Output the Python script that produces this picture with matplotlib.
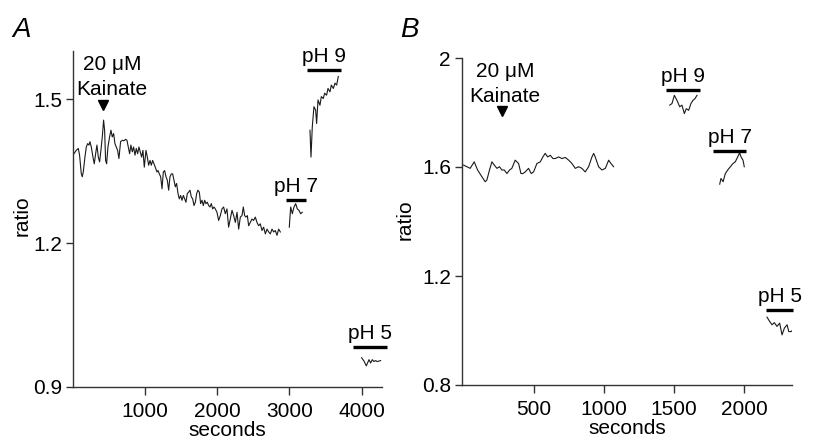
import matplotlib
matplotlib.use("Agg")
import matplotlib.pyplot as plt

plt.rcParams['font.family'] = ['Liberation Sans', 'DejaVu Sans']

# ---- painel A ----
a_base_t = [23, 55, 83, 101, 124, 138, 152, 175, 194, 212, 231, 244, 263, 286, 304, 323, 341, 360,
            378, 396, 415, 433, 447, 461, 475, 493, 516, 535, 553, 572, 590, 609, 627, 645, 668,
            692, 715, 738, 756, 774, 793, 811, 830, 848, 867, 885, 904, 922, 940, 959, 977, 996,
            1019, 1033, 1056, 1075, 1093, 1111, 1130, 1148, 1171, 1185, 1204, 1222, 1241, 1259,
            1277, 1296, 1314, 1333, 1351, 1370, 1388, 1406, 1425, 1443, 1462, 1480, 1499, 1517,
            1536, 1554, 1572, 1591, 1609, 1628, 1646, 1665, 1683, 1702, 1720, 1738, 1757, 1775,
            1794, 1812, 1831, 1849, 1867, 1886, 1904, 1923, 1941, 1960,
            1978, 2001, 2024, 2047, 2070, 2093, 2116, 2139, 2162, 2185, 2209, 2232, 2255, 2278,
            2301, 2324, 2347, 2365, 2384, 2402, 2421, 2439, 2462, 2485, 2508, 2531, 2554, 2577,
            2600, 2623, 2646, 2670, 2693, 2716, 2739, 2762, 2785, 2808, 2831, 2854, 2877]
a_base_r = [1.386, 1.393, 1.397, 1.383, 1.345, 1.338, 1.348, 1.379, 1.400, 1.407, 1.404, 1.411,
            1.400, 1.379, 1.365, 1.386, 1.404, 1.379, 1.369, 1.393, 1.421, 1.456, 1.435, 1.372,
            1.365, 1.400, 1.421, 1.435, 1.421, 1.428, 1.407, 1.400, 1.393, 1.376, 1.411, 1.414,
            1.413, 1.416, 1.414, 1.400, 1.386, 1.404, 1.390, 1.400, 1.383, 1.397, 1.386, 1.400,
            1.390, 1.379, 1.393, 1.358,
            1.393, 1.383, 1.362, 1.372, 1.362, 1.372, 1.365, 1.358, 1.348, 1.351, 1.344, 1.338,
            1.313, 1.348, 1.351, 1.338, 1.331, 1.310, 1.338, 1.344, 1.344, 1.331, 1.317, 1.324,
            1.303, 1.292, 1.299, 1.289, 1.299, 1.292, 1.285, 1.303, 1.306, 1.310, 1.296, 1.292,
            1.278, 1.285, 1.303, 1.310, 1.306, 1.282, 1.289, 1.278, 1.289, 1.282, 1.285, 1.278,
            1.275, 1.282, 1.271, 1.275,
            1.271, 1.264, 1.247, 1.257, 1.271, 1.275, 1.261, 1.271, 1.233, 1.250, 1.268, 1.257,
            1.243, 1.264, 1.229, 1.254, 1.257, 1.275, 1.257, 1.254, 1.257, 1.236, 1.243, 1.250,
            1.247, 1.254, 1.243, 1.236, 1.240, 1.226, 1.233, 1.219, 1.229, 1.223, 1.219, 1.229,
            1.223, 1.226, 1.216, 1.229, 1.223]
a_ph7_t = [3001, 3020, 3043, 3066, 3089, 3112, 3135, 3158, 3181]
a_ph7_r = [1.233, 1.275, 1.261, 1.275, 1.282, 1.271, 1.268, 1.261, 1.264]
a_ph9_t = [3287, 3301, 3319, 3342, 3365, 3379, 3398, 3425, 3444, 3471, 3490, 3517, 3536, 3564,
           3582, 3610, 3633, 3656, 3679]
a_ph9_r = [1.435, 1.379, 1.442, 1.484, 1.477, 1.449, 1.498, 1.487, 1.505, 1.501, 1.512, 1.508,
           1.522, 1.515, 1.529, 1.522, 1.533, 1.529, 1.547]
a_ph5_t = [4001, 4034, 4066, 4103, 4126, 4149, 4172, 4195, 4218, 4264]
a_ph5_r = [0.961, 0.954, 0.944, 0.957, 0.950, 0.957, 0.953, 0.955, 0.953, 0.955]
# barras de pH: (rotulo, inicio, fim, altura)
a_bars = [('pH 7', 2960, 3228, 1.289), ('pH 9', 3241, 3711, 1.561), ('pH 5', 3886, 4347, 0.984)]
a_seta = (429, 1.487)
a_txt_kainate = (553, 1.519)
a_txt_um = (549, 1.571)

# ---- painel B ----
b_base_t = [1, 25, 48, 77, 101, 132, 155, 167, 186, 203, 220, 239, 257, 274, 291, 310, 329, 345,
            369, 393, 410, 424, 440, 464, 483, 500, 524, 548, 566, 583, 600, 619, 638, 654, 678,
            702, 726, 750, 773, 797, 821, 844, 868, 892, 916, 928, 939, 963, 987, 1011, 1035, 1051, 1070]
b_base_r = [1.607, 1.601, 1.595, 1.619, 1.589, 1.564, 1.546, 1.552, 1.589, 1.619, 1.607, 1.595,
            1.601, 1.589, 1.589, 1.576, 1.589, 1.595, 1.625, 1.613, 1.576, 1.576, 1.582, 1.595,
            1.576, 1.582, 1.613, 1.619, 1.637, 1.650, 1.637, 1.643, 1.631, 1.631, 1.637, 1.631,
            1.635, 1.625, 1.613, 1.595, 1.601, 1.595, 1.582, 1.601, 1.637, 1.650, 1.637, 1.601,
            1.589, 1.595, 1.625, 1.613, 1.601]
b_ph9_t = [1470, 1486, 1503, 1521, 1541, 1557, 1574, 1588, 1605, 1621, 1636, 1650, 1664]
b_ph9_r = [1.827, 1.833, 1.863, 1.845, 1.821, 1.827, 1.796, 1.814, 1.808, 1.833, 1.845, 1.851, 1.863]
b_ph7_t = [1826, 1835, 1850, 1866, 1883, 1902, 1921, 1937, 1954, 1968, 1978, 1992, 2001]
b_ph7_r = [1.537, 1.558, 1.546, 1.576, 1.589, 1.601, 1.613, 1.619, 1.637, 1.652, 1.637, 1.625, 1.601]
b_ph5_t = [2163, 2182, 2199, 2215, 2234, 2253, 2270, 2287, 2306, 2318, 2334, 2348]
b_ph5_r = [1.049, 1.033, 1.021, 1.029, 1.015, 1.027, 0.984, 1.009, 1.021, 0.996, 0.996, 1.002]
b_bars = [('pH 9', 1443, 1683, 1.884), ('pH 7', 1778, 2014, 1.659), ('pH 5', 2159, 2348, 1.076)]
b_seta = (278, 1.805)
b_txt_kainate = (298, 1.860)
b_txt_um = (298, 1.951)

cor_traco = '#1a1a1a'
fs = 15


def monta_eixo(ax, xlim, ylim, yticks, xticks):
    ax.set_xlim(*xlim)
    ax.set_ylim(*ylim)
    ax.set_yticks(yticks)
    ax.set_yticklabels([('%g' % v) for v in yticks])
    ax.set_xticks(xticks)
    ax.spines['top'].set_visible(False)
    ax.spines['right'].set_visible(False)
    for s in ('left', 'bottom'):
        ax.spines[s].set_color('#333333')
        ax.spines[s].set_linewidth(1.0)
    ax.tick_params(direction='out', length=5, width=1, color='#333333', labelsize=fs, pad=3)
    ax.tick_params(axis='x', length=6, pad=5)
    ax.set_xlabel('seconds', fontsize=fs, labelpad=0)
    ax.set_ylabel('ratio', fontsize=fs)


def desenha(ax, segmentos, barras, seta, txt_kainate, txt_um, dy_txt):
    for t, r in segmentos:
        ax.plot(t, r, '-', color=cor_traco, lw=0.8)
    for rot, x0, x1, yb in barras:
        ax.plot([x0, x1], [yb, yb], '-', color='black', lw=2.4, solid_capstyle='butt', clip_on=False)
        ax.text((x0 + x1) / 2, yb + dy_txt, rot, ha='center', va='bottom', fontsize=fs)
    ax.plot([seta[0]], [seta[1]], marker='v', color='black', markersize=7, linestyle='none')
    ax.text(txt_kainate[0], txt_kainate[1], 'Kainate', ha='center', va='center', fontsize=fs)
    ax.text(txt_um[0], txt_um[1], '20 \u03bcM', ha='center', va='center', fontsize=fs)


fig = plt.figure(figsize=(8.13, 4.41), dpi=100)
ax_a = fig.add_axes([73 / 813, 1 - 387 / 441, 309 / 813, 336 / 441])
ax_b = fig.add_axes([462 / 813, 1 - 385 / 441, 330 / 813, 327 / 441])

monta_eixo(ax_a, (10, 4283), (0.9, 1.6), [0.9, 1.2, 1.5], [1000, 2000, 3000, 4000])
monta_eixo(ax_b, (-10, 2341), (0.8, 2.0), [0.8, 1.2, 1.6, 2.0], [500, 1000, 1500, 2000])
ax_a.yaxis.set_label_coords(-0.135, 0.51)
ax_b.yaxis.set_label_coords(-0.145, 0.505)

desenha(ax_a, [(a_base_t, a_base_r), (a_ph7_t, a_ph7_r), (a_ph9_t, a_ph9_r), (a_ph5_t, a_ph5_r)],
        a_bars, a_seta, a_txt_kainate, a_txt_um, 0.008)
desenha(ax_b, [(b_base_t, b_base_r), (b_ph9_t, b_ph9_r), (b_ph7_t, b_ph7_r), (b_ph5_t, b_ph5_r)],
        b_bars, b_seta, b_txt_kainate, b_txt_um, 0.014)

fig.text(12 / 813, 1 - 30 / 441, 'A', fontsize=20, style='italic', va='center')
fig.text(400 / 813, 1 - 30 / 441, 'B', fontsize=20, style='italic', va='center')

fig.savefig('out.png', dpi=100)
